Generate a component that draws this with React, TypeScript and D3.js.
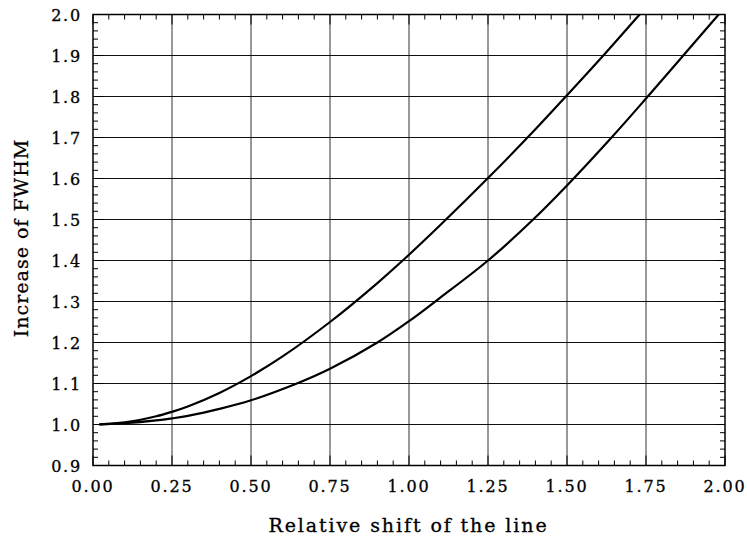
import React from "react";
import * as d3 from "d3";

const xTicks = [0, 0.25, 0.5, 0.75, 1.0, 1.25, 1.5, 1.75, 2.0];
const yTicks = [0.9, 1.0, 1.1, 1.2, 1.3, 1.4, 1.5, 1.6, 1.7, 1.8, 1.9, 2.0];

const upperX = [0.02, 0.1, 0.2, 0.25, 0.3, 0.4, 0.5, 0.6, 0.75, 0.9, 1.0, 1.1, 1.25, 1.4, 1.5, 1.615, 1.73, 1.76];
const upperY = [1.0002, 1.005, 1.02, 1.031, 1.044, 1.077, 1.118, 1.166, 1.25, 1.345, 1.414, 1.487, 1.601, 1.72, 1.803, 1.9, 2.0, 2.025];

const lowerX = [0.02, 0.1, 0.2, 0.25, 0.3, 0.4, 0.5, 0.645, 0.75, 0.9, 1.0, 1.1, 1.25, 1.393, 1.5, 1.641, 1.75, 1.868, 1.98, 2.0];
const lowerY = [1.0, 1.003, 1.01, 1.015, 1.021, 1.038, 1.059, 1.1, 1.136, 1.2, 1.252, 1.31, 1.4, 1.5, 1.583, 1.7, 1.795, 1.9, 2.0, 2.018];

const xLabel = "Relative shift of the line";
const yLabel = "Increase of FWHM";

export default function App() {
  const W = 747, H = 537;
  const L = 93, R = 725, T = 14.5, B = 465.5;
  const x = d3.scaleLinear().domain([0, 2]).range([L, R]);
  const y = d3.scaleLinear().domain([0.9, 2.0]).range([B, T]);
  const line = d3.line<[number, number]>().x(d => x(d[0])).y(d => y(d[1])).curve(d3.curveCatmullRom.alpha(0.5));
  const up: [number, number][] = upperX.map((v, i) => [v, upperY[i]]);
  const lo: [number, number][] = lowerX.map((v, i) => [v, lowerY[i]]);
  const xMinor = d3.range(0, 2.0001, 0.05);
  const yMinor = d3.range(0.9, 2.0001, 0.02);
  const font = "'DejaVu Serif', serif";
  return (
    <svg width={W} height={H} style={{ position: "absolute", left: 0, top: 0 }}>
      <defs>
        <clipPath id="plot"><rect x={L} y={T} width={R - L} height={B - T} /></clipPath>
      </defs>
      <rect x={0} y={0} width={W} height={H} fill="white" />
      {xTicks.slice(1, -1).map(t => (
        <line key={"gx" + t} x1={x(t)} x2={x(t)} y1={T} y2={B} stroke="#333" strokeWidth={1} />
      ))}
      {yTicks.slice(1, -1).map(t => (
        <line key={"gy" + t} x1={L} x2={R} y1={y(t)} y2={y(t)} stroke="#111" strokeWidth={1} />
      ))}
      {xMinor.map((t, i) => {
        const len = i % 5 === 0 ? 10 : 5;
        return (
          <g key={"xm" + i}>
            <line x1={x(t)} x2={x(t)} y1={B} y2={B - len} stroke="#000" strokeWidth={1} />
            <line x1={x(t)} x2={x(t)} y1={T} y2={T + len} stroke="#000" strokeWidth={1} />
          </g>
        );
      })}
      {yMinor.map((t, i) => {
        const len = i % 5 === 0 ? 10 : 5;
        return (
          <g key={"ym" + i}>
            <line x1={L} x2={L + len} y1={y(t)} y2={y(t)} stroke="#000" strokeWidth={1} />
            <line x1={R} x2={R - len} y1={y(t)} y2={y(t)} stroke="#000" strokeWidth={1} />
          </g>
        );
      })}
      <g clipPath="url(#plot)">
        <path d={line(up) || ""} fill="none" stroke="#000" strokeWidth={2.2} />
        <path d={line(lo) || ""} fill="none" stroke="#000" strokeWidth={2.2} />
      </g>
      <rect x={L} y={T} width={R - L} height={B - T} fill="none" stroke="#000" strokeWidth={1.5} />
      {xTicks.map(t => (
        <text key={"xl" + t} x={x(t)} y={492} textAnchor="middle" fontFamily={font} fontSize={16} letterSpacing={1.8} stroke="#000" strokeWidth={0.3}>
          {t.toFixed(2)}
        </text>
      ))}
      {yTicks.map(t => (
        <text key={"yl" + t} x={82} y={y(t) + 6} textAnchor="end" fontFamily={font} fontSize={16} letterSpacing={1.8} stroke="#000" strokeWidth={0.3}>
          {t.toFixed(1)}
        </text>
      ))}
      <text x={408.5} y={532} textAnchor="middle" fontFamily={font} fontSize={19} letterSpacing={1.9} stroke="#000" strokeWidth={0.3}>
        {xLabel}
      </text>
      <text transform={`translate(28, 238) rotate(-90)`} textAnchor="middle" fontFamily={font} fontSize={19} letterSpacing={1.0} stroke="#000" strokeWidth={0.3}>
        {yLabel}
      </text>
    </svg>
  );
}
